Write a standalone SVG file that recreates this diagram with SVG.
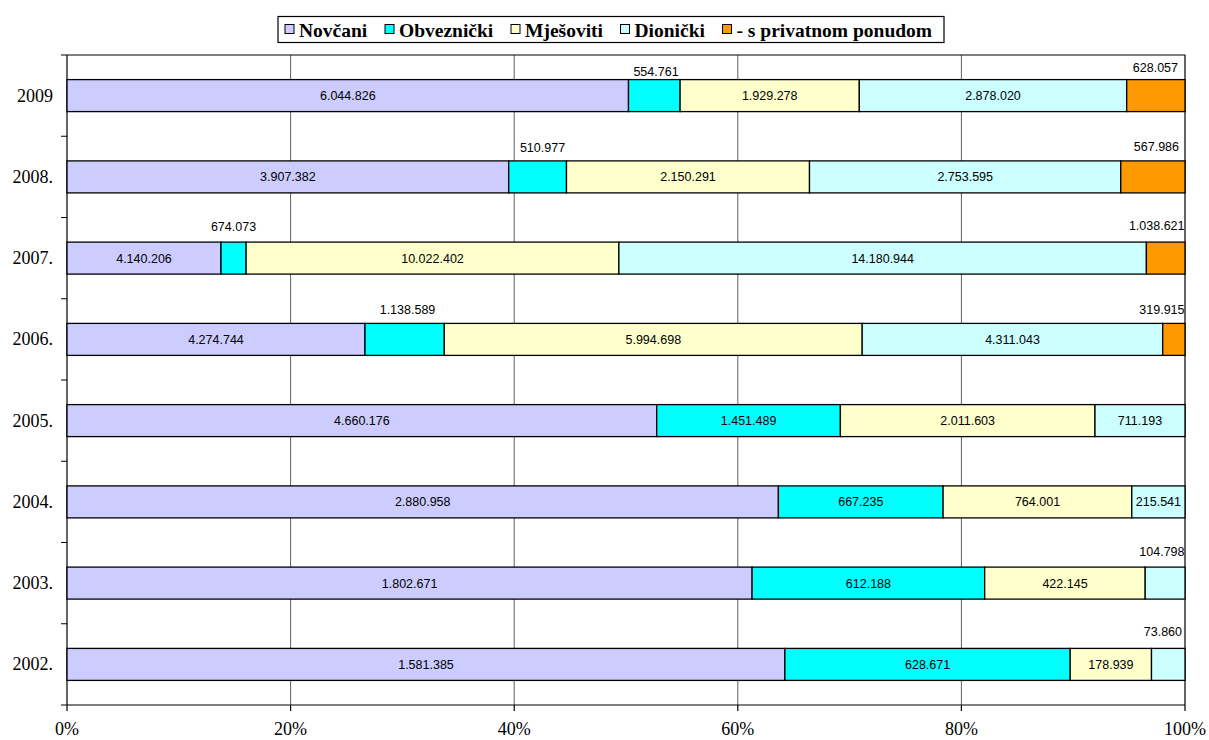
<svg xmlns="http://www.w3.org/2000/svg" width="1209" height="740" viewBox="0 0 1209 740">
<style>
.bg{fill:#fff}
.grid{stroke:#606060;stroke-width:1}
.axis{stroke:#000;stroke-width:1.2;fill:none}
.seg{stroke:#000;stroke-width:1.3}
.n{fill:#ccccff}.o{fill:#00ffff}.m{fill:#ffffcc}.d{fill:#ccffff}.p{fill:#ff9900}
.v{font-family:"Liberation Sans",Arial,sans-serif;font-size:12.5px;fill:#000;text-anchor:middle}
.ve{font-family:"Liberation Sans",Arial,sans-serif;font-size:12.5px;fill:#000;text-anchor:end}
.yl{font-family:"Liberation Serif","Times New Roman",serif;font-size:18px;fill:#000;text-anchor:end}
.xl{font-family:"Liberation Serif","Times New Roman",serif;font-size:18px;fill:#000;text-anchor:middle}
.lg{font-family:"Liberation Serif","Times New Roman",serif;font-size:19.5px;font-weight:bold;fill:#000}
.ls{stroke:#000;stroke-width:1}
</style>
<rect class="bg" x="0" y="0" width="1209" height="740"/>

<g id="gridlines">
<line class="grid" x1="290.6" y1="55" x2="290.6" y2="705"/>
<line class="grid" x1="514.2" y1="55" x2="514.2" y2="705"/>
<line class="grid" x1="737.8" y1="55" x2="737.8" y2="705"/>
<line class="grid" x1="961.4" y1="55" x2="961.4" y2="705"/>
</g>

<g id="axes">
<path class="axis" d="M61 55H1185V705M61 705H1185M67 55V711"/>
<path class="axis" d="M61 136.25H67M61 217.5H67M61 298.75H67M61 380H67M61 461.25H67M61 542.5H67M61 623.75H67"/>
<path class="axis" d="M290.6 705V711M514.2 705V711M737.8 705V711M961.4 705V711M1185 705V711"/>
</g>

<g id="bar-2009">
<rect class="seg n" x="67" y="79.6" width="561.5" height="32"/>
<rect class="seg o" x="628.5" y="79.6" width="51.6" height="32"/>
<rect class="seg m" x="680.1" y="79.6" width="179.2" height="32"/>
<rect class="seg d" x="859.3" y="79.6" width="267.4" height="32"/>
<rect class="seg p" x="1126.7" y="79.6" width="58.3" height="32"/>
<text class="v" x="347.8" y="100.1">6.044.826</text>
<text class="v" x="769.7" y="100.1">1.929.278</text>
<text class="v" x="993" y="100.1">2.878.020</text>
<text class="v" x="656" y="76">554.761</text>
<text class="ve" x="1178" y="72">628.057</text>
</g>

<g id="bar-2008">
<rect class="seg n" x="67" y="160.9" width="441.7" height="32"/>
<rect class="seg o" x="508.7" y="160.9" width="57.8" height="32"/>
<rect class="seg m" x="566.5" y="160.9" width="243" height="32"/>
<rect class="seg d" x="809.5" y="160.9" width="311.3" height="32"/>
<rect class="seg p" x="1120.8" y="160.9" width="64.2" height="32"/>
<text class="v" x="287.9" y="181.4">3.907.382</text>
<text class="v" x="688" y="181.4">2.150.291</text>
<text class="v" x="965.2" y="181.4">2.753.595</text>
<text class="v" x="542.5" y="151.5">510.977</text>
<text class="ve" x="1179" y="151">567.986</text>
</g>

<g id="bar-2007">
<rect class="seg n" x="67" y="242.1" width="154" height="32"/>
<rect class="seg o" x="221" y="242.1" width="25.1" height="32"/>
<rect class="seg m" x="246.1" y="242.1" width="372.8" height="32"/>
<rect class="seg d" x="618.9" y="242.1" width="527.5" height="32"/>
<rect class="seg p" x="1146.4" y="242.1" width="38.6" height="32"/>
<text class="v" x="144" y="262.6">4.140.206</text>
<text class="v" x="432.5" y="262.6">10.022.402</text>
<text class="v" x="882.7" y="262.6">14.180.944</text>
<text class="v" x="233.5" y="230.5">674.073</text>
<text class="ve" x="1184.5" y="229.5">1.038.621</text>
</g>

<g id="bar-2006">
<rect class="seg n" x="67" y="323.4" width="298" height="32"/>
<rect class="seg o" x="365" y="323.4" width="79.3" height="32"/>
<rect class="seg m" x="444.3" y="323.4" width="417.9" height="32"/>
<rect class="seg d" x="862.2" y="323.4" width="300.5" height="32"/>
<rect class="seg p" x="1162.7" y="323.4" width="22.3" height="32"/>
<text class="v" x="216" y="343.9">4.274.744</text>
<text class="v" x="653.3" y="343.9">5.994.698</text>
<text class="v" x="1012.5" y="343.9">4.311.043</text>
<text class="v" x="407.5" y="313.5">1.138.589</text>
<text class="ve" x="1184.5" y="313.5">319.915</text>
</g>

<g id="bar-2005">
<rect class="seg n" x="67" y="404.6" width="589.7" height="32"/>
<rect class="seg o" x="656.7" y="404.6" width="183.7" height="32"/>
<rect class="seg m" x="840.4" y="404.6" width="254.6" height="32"/>
<rect class="seg d" x="1095" y="404.6" width="90" height="32"/>
<text class="v" x="361.9" y="425.1">4.660.176</text>
<text class="v" x="748.6" y="425.1">1.451.489</text>
<text class="v" x="967.7" y="425.1">2.011.603</text>
<text class="v" x="1140" y="425.1">711.193</text>
</g>

<g id="bar-2004">
<rect class="seg n" x="67" y="485.9" width="711.4" height="32"/>
<rect class="seg o" x="778.4" y="485.9" width="164.7" height="32"/>
<rect class="seg m" x="943.1" y="485.9" width="188.7" height="32"/>
<rect class="seg d" x="1131.8" y="485.9" width="53.2" height="32"/>
<text class="v" x="422.7" y="506.4">2.880.958</text>
<text class="v" x="860.8" y="506.4">667.235</text>
<text class="v" x="1037.5" y="506.4">764.001</text>
<text class="v" x="1158.4" y="506.4">215.541</text>
</g>

<g id="bar-2003">
<rect class="seg n" x="67" y="567.1" width="685.1" height="32"/>
<rect class="seg o" x="752.1" y="567.1" width="232.6" height="32"/>
<rect class="seg m" x="984.7" y="567.1" width="160.5" height="32"/>
<rect class="seg d" x="1145.2" y="567.1" width="39.8" height="32"/>
<text class="v" x="409.6" y="587.6">1.802.671</text>
<text class="v" x="868.4" y="587.6">612.188</text>
<text class="v" x="1065" y="587.6">422.145</text>
<text class="ve" x="1184.5" y="556">104.798</text>
</g>

<g id="bar-2002">
<rect class="seg n" x="67" y="648.4" width="717.9" height="32"/>
<rect class="seg o" x="784.9" y="648.4" width="285.3" height="32"/>
<rect class="seg m" x="1070.2" y="648.4" width="81.3" height="32"/>
<rect class="seg d" x="1151.5" y="648.4" width="33.5" height="32"/>
<text class="v" x="426" y="668.9">1.581.385</text>
<text class="v" x="927.6" y="668.9">628.671</text>
<text class="v" x="1110.9" y="668.9">178.939</text>
<text class="ve" x="1182" y="636">73.860</text>
</g>

<g id="y-labels">
<text class="yl" x="53" y="101.6">2009</text>
<text class="yl" x="53" y="182.9">2008.</text>
<text class="yl" x="53" y="264.1">2007.</text>
<text class="yl" x="53" y="345.4">2006.</text>
<text class="yl" x="53" y="426.6">2005.</text>
<text class="yl" x="53" y="507.9">2004.</text>
<text class="yl" x="53" y="589.1">2003.</text>
<text class="yl" x="53" y="670.4">2002.</text>
</g>

<g id="x-labels">
<text class="xl" x="67" y="735">0%</text>
<text class="xl" x="290.6" y="735">20%</text>
<text class="xl" x="514.2" y="735">40%</text>
<text class="xl" x="737.8" y="735">60%</text>
<text class="xl" x="961.4" y="735">80%</text>
<text class="xl" x="1185" y="735">100%</text>
</g>

<g id="legend">
<rect x="278" y="16.5" width="666" height="26" fill="#fff" stroke="#000" stroke-width="1.2"/>
<rect class="ls n" x="285" y="24.5" width="9" height="9"/>
<text class="lg" x="299" y="36.5">Novčani</text>
<rect class="ls o" x="385" y="24.5" width="9" height="9"/>
<text class="lg" x="399" y="36.5">Obveznički</text>
<rect class="ls m" x="511" y="24.5" width="9" height="9"/>
<text class="lg" x="525" y="36.5">Mješoviti</text>
<rect class="ls d" x="620.5" y="24.5" width="9" height="9"/>
<text class="lg" x="634.5" y="36.5">Dionički</text>
<rect class="ls p" x="722.5" y="24.5" width="9" height="9"/>
<text class="lg" x="736.5" y="36.5">- s privatnom ponudom</text>
</g>
</svg>
